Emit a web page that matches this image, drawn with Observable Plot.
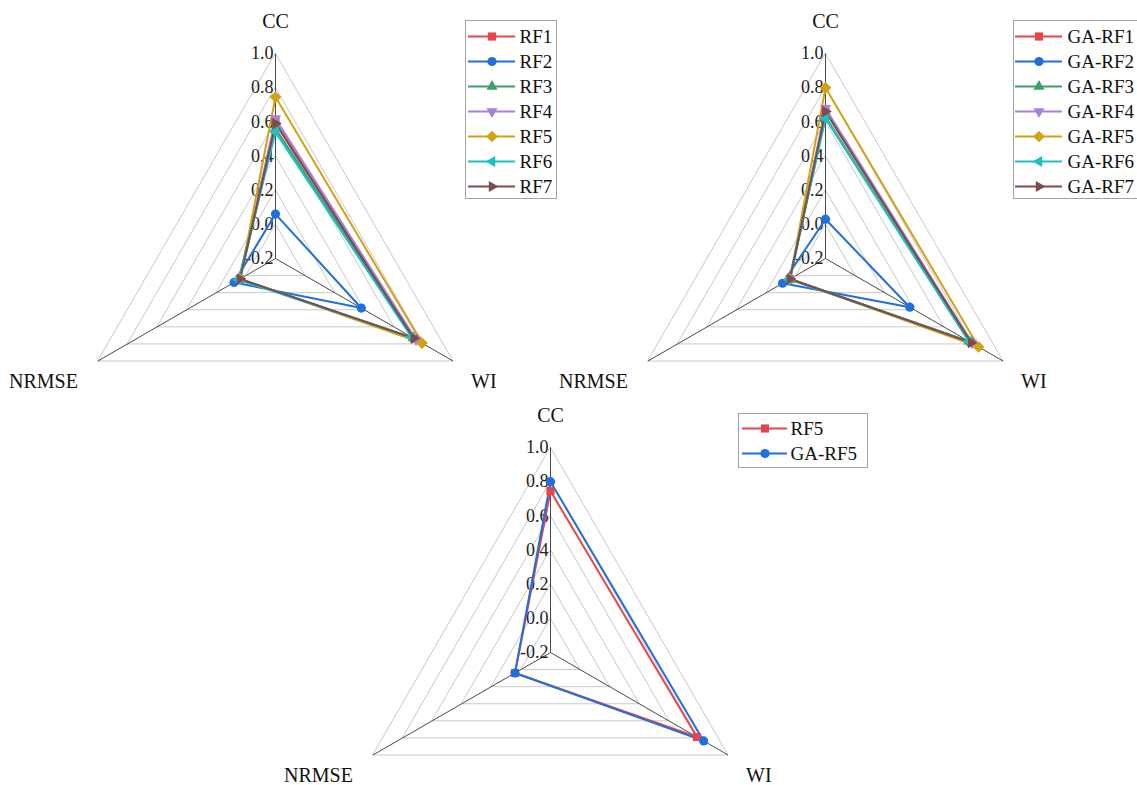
<!DOCTYPE html>
<html>
<head>
<meta charset="utf-8">
<script src="https://cdn.jsdelivr.net/npm/d3@7"></script>
<script src="https://cdn.jsdelivr.net/npm/@observablehq/plot@0.6"></script>
<style>
  body { margin: 0; background: #fff; }
  #page { position: relative; width: 1137px; height: 785px; overflow: hidden; background: #fff; }
  #page svg { position: absolute; }
</style>
</head>
<body>
<div id="page"></div>
<script>
// Radar axes (clockwise from top) and the shared radial ticks
const axisNames = ["CC", "WI", "NRMSE"];
const axisAngles = [90, -30, 210];
const tickValues = [-0.2, 0.0, 0.2, 0.4, 0.6, 0.8, 1.0];

// Plain random-forest models
const rfNames = ["RF1", "RF2", "RF3", "RF4", "RF5", "RF6", "RF7"];
const rfCC    = [0.60, 0.06, 0.56, 0.62, 0.745, 0.54, 0.59];
const rfWI    = [0.74, 0.38, 0.73, 0.75, 0.79, 0.72, 0.735];
const rfNRMSE = [0.04, 0.08, 0.04, 0.04, 0.04, 0.05, 0.04];

// GA-tuned random-forest models
const gaNames = ["GA-RF1", "GA-RF2", "GA-RF3", "GA-RF4", "GA-RF5", "GA-RF6", "GA-RF7"];
const gaCC    = [0.66, 0.03, 0.63, 0.68, 0.80, 0.62, 0.66];
const gaWI    = [0.78, 0.37, 0.77, 0.79, 0.835, 0.77, 0.785];
const gaNRMSE = [0.04, 0.09, 0.04, 0.04, 0.04, 0.045, 0.04];

// Best pair compared in the lower panel
const compareNames = ["RF5", "GA-RF5"];

const seriesColors = ["#e8454a", "#1f6fde", "#3a9f6b", "#a97fe0", "#d1a214", "#19c2c4", "#7b4c4c"];

// Marker shapes (size is the symbol area, as in d3.symbol)
function tri(rot) {
  return {
    draw(ctx, size) {
      const h = 0.68 * Math.sqrt(size), t = h * Math.sqrt(3);
      const pts = [[0, -2 * t / 3], [-h, t / 3], [h, t / 3]];
      const c = Math.cos(rot), s = Math.sin(rot);
      pts.forEach(([x, y], i) => {
        const px = x * c - y * s, py = x * s + y * c;
        i ? ctx.lineTo(px, py) : ctx.moveTo(px, py);
      });
      ctx.closePath();
    }
  };
}
const symSquare = { draw(ctx, size) { const a = 0.5 * Math.sqrt(size); ctx.rect(-a, -a, 2 * a, 2 * a); } };
const symCircle = { draw(ctx, size) { const r = Math.sqrt(size / Math.PI); ctx.moveTo(r, 0); ctx.arc(0, 0, r, 0, 2 * Math.PI); } };
const symDiamond = { draw(ctx, size) { const d = 0.72 * Math.sqrt(size); ctx.moveTo(0, -d); ctx.lineTo(d, 0); ctx.lineTo(0, d); ctx.lineTo(-d, 0); ctx.closePath(); } };
const seriesSymbols = [symSquare, symCircle, tri(0), tri(Math.PI), symDiamond, tri(-Math.PI / 2), tri(Math.PI / 2)];

const font = "'Times New Roman', 'Liberation Serif', serif";
const radial = d3.scaleLinear().domain([-0.2, 1.0]).range([0, 1]);
const unitPx = 205;

function polar(j, v) {
  const a = axisAngles[j] * Math.PI / 180, r = radial(v);
  return [r * Math.cos(a), r * Math.sin(a)];
}

function seriesRows(names, cols) {
  const rows = [];
  names.forEach((name, i) => {
    cols.forEach((col, j) => {
      const [x, y] = polar(j, col[i]);
      rows.push({ series: name, axis: axisNames[j], value: col[i], x, y });
    });
  });
  return rows;
}

const page = document.getElementById("page");

function place(svg, left, top) {
  svg.style.left = left + "px";
  svg.style.top = top + "px";
  page.appendChild(svg);
}

function radar({ names, colors, symbols, cols, left, top, width, height, cx, cy }) {
  const rows = seriesRows(names, cols);
  const gridRows = [];
  tickValues.slice(1).forEach(t => axisNames.forEach((a, j) => {
    const [x, y] = polar(j, t);
    gridRows.push({ level: t, x, y });
  }));
  const spokes = axisNames.map((a, j) => {
    const [x, y] = polar(j, 1.0);
    return { axis: a, x, y };
  });
  const svg = Plot.plot({
    width, height,
    margin: 0,
    style: { background: "transparent", fontFamily: font, overflow: "visible", color: "#111" },
    x: { domain: [-cx / unitPx, (width - cx) / unitPx], range: [0, width], axis: null },
    y: { domain: [-(height - cy) / unitPx, cy / unitPx], range: [height, 0], axis: null },
    color: { domain: names, range: colors },
    symbol: { domain: names, range: symbols },
    marks: [
      Plot.line(gridRows, { x: "x", y: "y", z: "level", curve: "linear-closed", stroke: "#c9c9c9", strokeWidth: 1 }),
      Plot.link(spokes, { x1: () => 0, y1: () => 0, x2: "x", y2: "y", stroke: "#4a4a4a", strokeWidth: 1 }),
      Plot.text(tickValues, { x: () => 0, y: d => radial(d), text: d => d.toFixed(1), textAnchor: "end", dx: -2, fontSize: 18, fill: "#222" }),
      Plot.line(rows, { x: "x", y: "y", z: "series", stroke: "series", curve: "linear-closed", strokeWidth: 2 }),
      Plot.dot(rows, { x: "x", y: "y", fill: "series", symbol: "series", r: 4.6 }),
      Plot.text(spokes.filter(d => d.axis === "CC"), { x: "x", y: "y", text: "axis", dy: -32, fontSize: 20, fill: "#111" }),
      Plot.text(spokes.filter(d => d.axis === "WI"), { x: "x", y: "y", text: "axis", dx: 18, dy: 21, textAnchor: "start", fontSize: 20, fill: "#111" }),
      Plot.text(spokes.filter(d => d.axis === "NRMSE"), { x: "x", y: "y", text: "axis", dx: -20, dy: 21, textAnchor: "end", fontSize: 20, fill: "#111" })
    ]
  });
  place(svg, left, top);
}

function legend({ names, colors, symbols, left, top, width, height, rowRange, lineRange, gap }) {
  const svg = Plot.plot({
    width, height,
    margin: 0,
    style: { background: "#fff", fontFamily: font, border: "1px solid #a3a3a3", overflow: "hidden" },
    x: { domain: [0, 1], range: lineRange, axis: null },
    y: { type: "point", domain: names, range: rowRange, padding: 0, axis: null },
    color: { domain: names, range: colors },
    symbol: { domain: names, range: symbols },
    marks: [
      Plot.ruleY(names, { y: d => d, x1: () => 0, x2: () => 1, stroke: d => d, strokeWidth: 2 }),
      Plot.dot(names, { x: () => 0.5, y: d => d, fill: d => d, symbol: d => d, r: 4.6 }),
      Plot.text(names, { x: () => 1, y: d => d, text: d => d, dx: gap, textAnchor: "start", fontSize: 19, fill: "#111" })
    ]
  });
  place(svg, left, top);
}

// Lookup of the compared pair from the two model groups
const pick = (names, col, name) => col[names.indexOf(name)];
const cmpCols = [
  [pick(rfNames, rfCC, "RF5"), pick(gaNames, gaCC, "GA-RF5")],
  [pick(rfNames, rfWI, "RF5"), pick(gaNames, gaWI, "GA-RF5")],
  [pick(rfNames, rfNRMSE, "RF5"), pick(gaNames, gaNRMSE, "GA-RF5")]
];
const cmpColors = [seriesColors[0], seriesColors[1]];
const cmpSymbols = [symSquare, symCircle];

radar({ names: rfNames, colors: seriesColors, symbols: seriesSymbols, cols: [rfCC, rfWI, rfNRMSE],
        left: 0, top: 0, width: 570, height: 400, cx: 275, cy: 258 });
radar({ names: gaNames, colors: seriesColors, symbols: seriesSymbols, cols: [gaCC, gaWI, gaNRMSE],
        left: 560, top: 0, width: 577, height: 400, cx: 265, cy: 258 });
radar({ names: compareNames, colors: cmpColors, symbols: cmpSymbols, cols: cmpCols,
        left: 280, top: 395, width: 600, height: 390, cx: 270, cy: 257 });

legend({ names: rfNames, colors: seriesColors, symbols: seriesSymbols,
         left: 465, top: 20, width: 90, height: 177, rowRange: [13, 166], lineRange: [2, 49], gap: 4 });
legend({ names: gaNames, colors: seriesColors, symbols: seriesSymbols,
         left: 1013, top: 20, width: 140, height: 177, rowRange: [13, 166], lineRange: [1, 48], gap: 5 });
legend({ names: compareNames, colors: cmpColors, symbols: cmpSymbols,
         left: 738, top: 413, width: 128, height: 53, rowRange: [14, 39], lineRange: [3, 48], gap: 3 });
</script>
</body>
</html>
